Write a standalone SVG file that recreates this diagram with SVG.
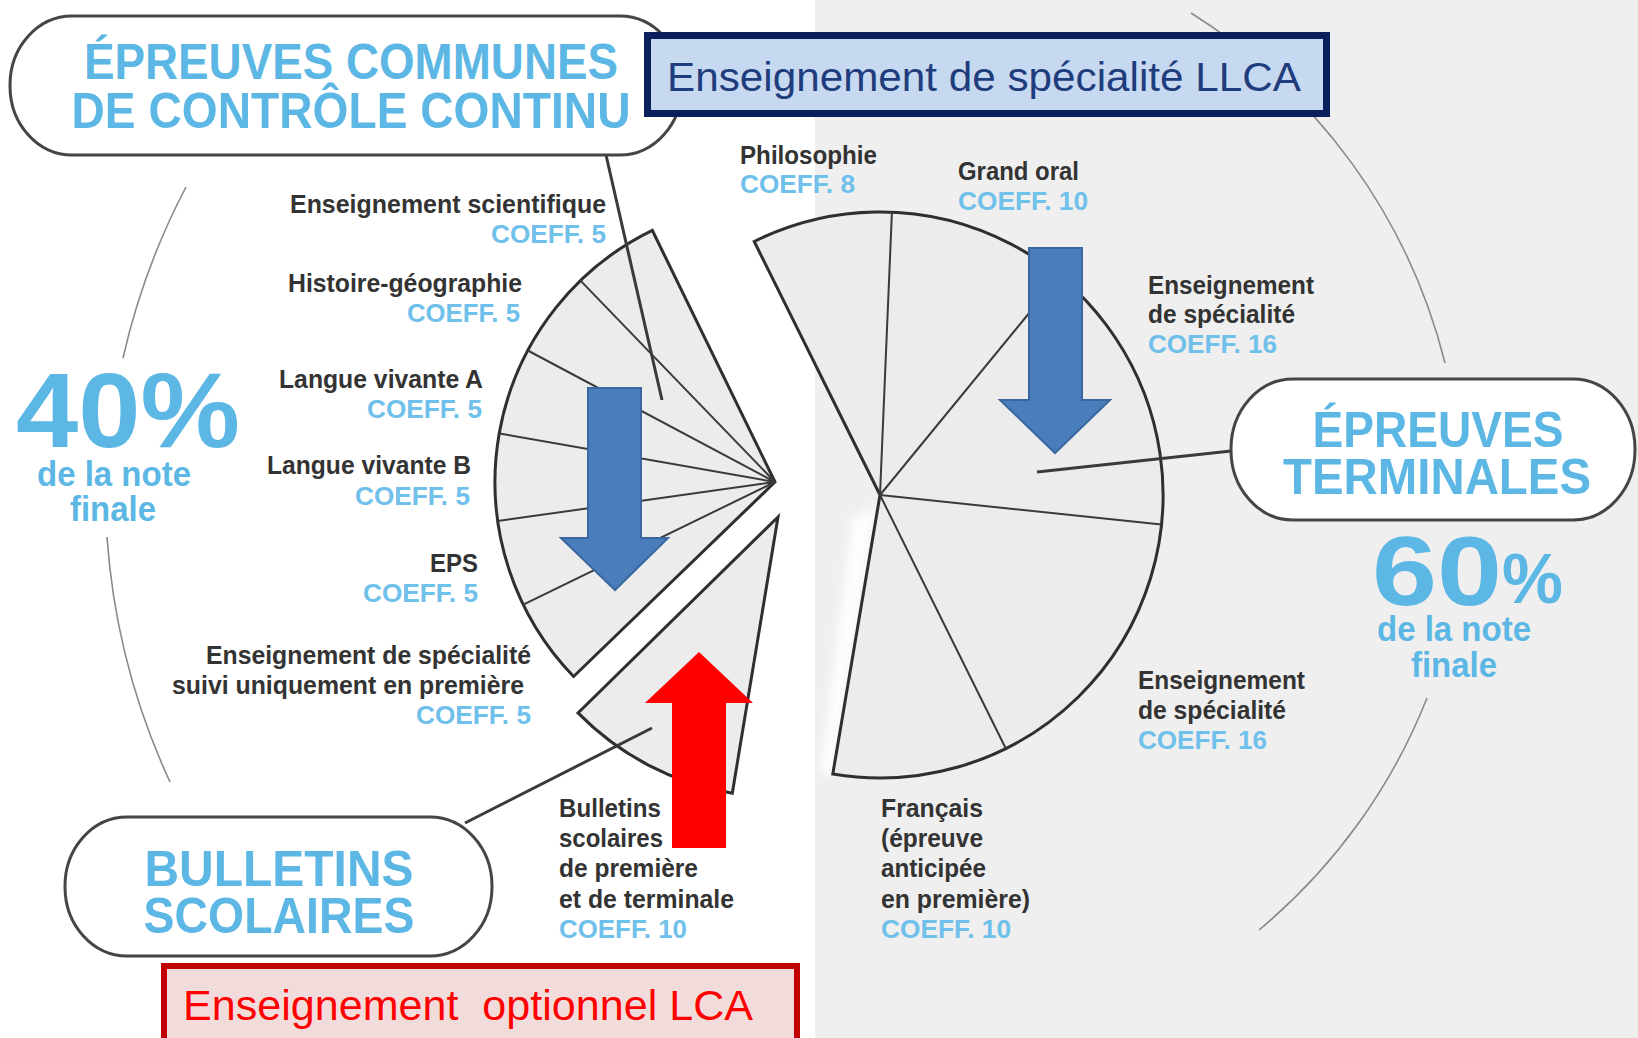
<svg xmlns="http://www.w3.org/2000/svg" width="1638" height="1038" viewBox="0 0 1638 1038">
<defs>
<style>
.title{font-family:"Liberation Sans",Arial,sans-serif;font-weight:bold;fill:#5cb7e5;text-anchor:middle}
.lbl{font-family:"Liberation Sans",Arial,sans-serif;font-weight:bold;font-size:26px;fill:#333333}
.coeff{font-family:"Liberation Sans",Arial,sans-serif;font-weight:bold;font-size:26px;fill:#6fc0ea}
.end{text-anchor:end}
.big{font-family:"Liberation Sans",Arial,sans-serif;font-weight:bold;fill:#5cb7e5}
.pill{fill:#ffffff;stroke:#454545;stroke-width:3}
.pie{fill:#ececec;stroke:#2f2f2f;stroke-width:3;stroke-linejoin:miter}
.rad{stroke:#3a3a3a;stroke-width:2;fill:none}
.lead{stroke:#3a3a3a;stroke-width:3;fill:none}
.guide{stroke:#8a8a8a;stroke-width:1.6;fill:none}
.barrow{fill:#4a7dbb;stroke:#3a679f;stroke-width:2}
</style>
<filter id="soft" x="-50%" y="-10%" width="200%" height="120%">
<feGaussianBlur stdDeviation="5"/>
</filter>
</defs>
<rect width="1638" height="1038" fill="#ffffff"/>
<rect x="815" y="0" width="823" height="1038" fill="#efefef"/>
<path d="M876,505 L834,775 L820,775 L852,520 Z" fill="#ffffff" opacity="0.9" filter="url(#soft)"/>

<g id="connectors">
<path class="guide" d="M186,187 A700,700 0 0,0 123,358"/>
<path class="guide" d="M107,537 A700,700 0 0,0 170,782"/>
<path class="guide" d="M1191,13 A578,578 0 0,1 1445,363"/>
<path class="guide" d="M1427,698 A578,578 0 0,1 1259,930"/>
</g>

<g id="pie-controle-continu">
<path class="pie" d="M775,482 L652.3,230.3 A280,280 0 0,0 573.6,676.5 Z"/>
<path class="rad" d="M775,482 L580.5,280.6 M775,482 L527.8,350.5 M775,482 L499.3,433.4 M775,482 L497.7,521 M775,482 L523.3,604.7"/>
</g>
<g id="pie-bulletins">
<path class="pie" d="M778,517 L578,712.9 A280,280 0 0,0 732.3,793.2 Z"/>
</g>
<g id="pie-terminales">
<path class="pie" d="M880,495 L754.2,241.5 A283,283 0 1,1 832.8,774 Z"/>
<path class="rad" d="M880,495 L891.9,212.3 M880,495 L1030,312 M880,495 L1161.4,524.6 M880,495 L1005.8,748.5"/>
</g>

<g id="leaders">
<path class="lead" d="M606,155 L662,400"/>
<path class="lead" d="M1231,451 L1037,472"/>
<path class="lead" d="M465,823 L652,728"/>
</g>

<g id="arrow-left">
<path class="barrow" d="M588,388 L641,388 L641,538 L668,538 L615,590 L561,538 L588,538 Z"/>
</g>
<g id="arrow-right">
<path class="barrow" d="M1029,248 L1082,248 L1082,400 L1110,400 L1055,453 L1000,400 L1029,400 Z"/>
</g>
<g id="arrow-red">
<path d="M672,848 L726,848 L726,703 L753,703 L699,652 L645,703 L672,703 Z" fill="#ff0000"/>
</g>

<g id="node-ecc">
<rect class="pill" x="10" y="16" width="672" height="139" rx="62" ry="69"/>
<text class="title" x="351" y="79" font-size="50" textLength="534" lengthAdjust="spacingAndGlyphs">ÉPREUVES COMMUNES</text>
<text class="title" x="351" y="128" font-size="50" textLength="559" lengthAdjust="spacingAndGlyphs">DE CONTRÔLE CONTINU</text>
</g>

<g id="node-llca">
<rect x="647.5" y="35.5" width="679" height="78" fill="#c6d9f1" stroke="#0b1f5c" stroke-width="7"/>
<text x="667" y="91" font-family="'Liberation Sans',Arial,sans-serif" font-size="41" fill="#1f3d7c" textLength="634" lengthAdjust="spacingAndGlyphs">Enseignement de spécialité LLCA</text>
</g>

<g id="node-bulletins">
<rect class="pill" x="65" y="817" width="427" height="139" rx="62" ry="69"/>
<text class="title" x="279" y="886" font-size="50" textLength="269" lengthAdjust="spacingAndGlyphs">BULLETINS</text>
<text class="title" x="279" y="933" font-size="50" textLength="271" lengthAdjust="spacingAndGlyphs">SCOLAIRES</text>
</g>

<g id="node-terminales">
<rect class="pill" x="1231" y="379" width="404" height="141" rx="62" ry="70"/>
<text class="title" x="1438" y="447" font-size="50" textLength="251" lengthAdjust="spacingAndGlyphs">ÉPREUVES</text>
<text class="title" x="1437" y="494" font-size="50" textLength="308" lengthAdjust="spacingAndGlyphs">TERMINALES</text>
</g>

<g id="node-lca">
<rect x="164" y="966" width="633" height="90" fill="#f2dcdb" stroke="#c00000" stroke-width="6"/>
<text x="183" y="1020" font-family="'Liberation Sans',Arial,sans-serif" font-size="42" fill="#ff0000" style="white-space:pre" textLength="570" lengthAdjust="spacingAndGlyphs">Enseignement  optionnel LCA</text>
</g>

<g id="pct-40">
<text class="big" x="16" y="447" font-size="106" textLength="224" lengthAdjust="spacingAndGlyphs">40%</text>
<text class="big" x="114" y="486" font-size="35" text-anchor="middle" textLength="154" lengthAdjust="spacingAndGlyphs">de la note</text>
<text class="big" x="113" y="521" font-size="35" text-anchor="middle" textLength="86" lengthAdjust="spacingAndGlyphs">finale</text>
</g>

<g id="pct-60">
<text class="big" x="1372" y="605" font-size="99" textLength="130" lengthAdjust="spacingAndGlyphs">60</text>
<text class="big" x="1502" y="603" font-size="70" textLength="61" lengthAdjust="spacingAndGlyphs">%</text>
<text class="big" x="1454" y="641" font-size="35" text-anchor="middle" textLength="154" lengthAdjust="spacingAndGlyphs">de la note</text>
<text class="big" x="1454" y="677" font-size="35" text-anchor="middle" textLength="86" lengthAdjust="spacingAndGlyphs">finale</text>
</g>

<g id="label-sci">
<text class="lbl end" x="606" y="213" textLength="316" lengthAdjust="spacingAndGlyphs">Enseignement scientifique</text>
<text class="coeff end" x="606" y="243" textLength="115" lengthAdjust="spacingAndGlyphs">COEFF. 5</text>
</g>
<g id="label-hg">
<text class="lbl end" x="522" y="292" textLength="234" lengthAdjust="spacingAndGlyphs">Histoire-géographie</text>
<text class="coeff end" x="520" y="322" textLength="113" lengthAdjust="spacingAndGlyphs">COEFF. 5</text>
</g>
<g id="label-lva">
<text class="lbl end" x="483" y="388" textLength="204" lengthAdjust="spacingAndGlyphs">Langue vivante A</text>
<text class="coeff end" x="482" y="418" textLength="115" lengthAdjust="spacingAndGlyphs">COEFF. 5</text>
</g>
<g id="label-lvb">
<text class="lbl end" x="471" y="474" textLength="204" lengthAdjust="spacingAndGlyphs">Langue vivante B</text>
<text class="coeff end" x="470" y="505" textLength="115" lengthAdjust="spacingAndGlyphs">COEFF. 5</text>
</g>
<g id="label-eps">
<text class="lbl end" x="478" y="572" textLength="48" lengthAdjust="spacingAndGlyphs">EPS</text>
<text class="coeff end" x="478" y="602" textLength="115" lengthAdjust="spacingAndGlyphs">COEFF. 5</text>
</g>
<g id="label-spe1">
<text class="lbl end" x="531" y="664" textLength="325" lengthAdjust="spacingAndGlyphs">Enseignement de spécialité</text>
<text class="lbl end" x="524" y="694" textLength="352" lengthAdjust="spacingAndGlyphs">suivi uniquement en première</text>
<text class="coeff end" x="531" y="724" textLength="115" lengthAdjust="spacingAndGlyphs">COEFF. 5</text>
</g>
<g id="label-bulletins">
<text class="lbl" x="559" y="817" textLength="102" lengthAdjust="spacingAndGlyphs">Bulletins</text>
<text class="lbl" x="559" y="847" textLength="104" lengthAdjust="spacingAndGlyphs">scolaires</text>
<text class="lbl" x="559" y="877" textLength="139" lengthAdjust="spacingAndGlyphs">de première</text>
<text class="lbl" x="559" y="908" textLength="175" lengthAdjust="spacingAndGlyphs">et de terminale</text>
<text class="coeff" x="559" y="938" textLength="128" lengthAdjust="spacingAndGlyphs">COEFF. 10</text>
</g>
<g id="label-philo">
<text class="lbl" x="740" y="164" textLength="137" lengthAdjust="spacingAndGlyphs">Philosophie</text>
<text class="coeff" x="740" y="193" textLength="115" lengthAdjust="spacingAndGlyphs">COEFF. 8</text>
</g>
<g id="label-oral">
<text class="lbl" x="958" y="180" textLength="121" lengthAdjust="spacingAndGlyphs">Grand oral</text>
<text class="coeff" x="958" y="210" textLength="130" lengthAdjust="spacingAndGlyphs">COEFF. 10</text>
</g>
<g id="label-spe-a">
<text class="lbl" x="1148" y="294" textLength="166" lengthAdjust="spacingAndGlyphs">Enseignement</text>
<text class="lbl" x="1148" y="323" textLength="147" lengthAdjust="spacingAndGlyphs">de spécialité</text>
<text class="coeff" x="1148" y="353" textLength="129" lengthAdjust="spacingAndGlyphs">COEFF. 16</text>
</g>
<g id="label-spe-b">
<text class="lbl" x="1138" y="689" textLength="167" lengthAdjust="spacingAndGlyphs">Enseignement</text>
<text class="lbl" x="1138" y="719" textLength="148" lengthAdjust="spacingAndGlyphs">de spécialité</text>
<text class="coeff" x="1138" y="749" textLength="129" lengthAdjust="spacingAndGlyphs">COEFF. 16</text>
</g>
<g id="label-francais">
<text class="lbl" x="881" y="817" textLength="102" lengthAdjust="spacingAndGlyphs">Français</text>
<text class="lbl" x="881" y="847" textLength="102" lengthAdjust="spacingAndGlyphs">(épreuve</text>
<text class="lbl" x="881" y="877" textLength="105" lengthAdjust="spacingAndGlyphs">anticipée</text>
<text class="lbl" x="881" y="908" textLength="149" lengthAdjust="spacingAndGlyphs">en première)</text>
<text class="coeff" x="881" y="938" textLength="130" lengthAdjust="spacingAndGlyphs">COEFF. 10</text>
</g>
</svg>
